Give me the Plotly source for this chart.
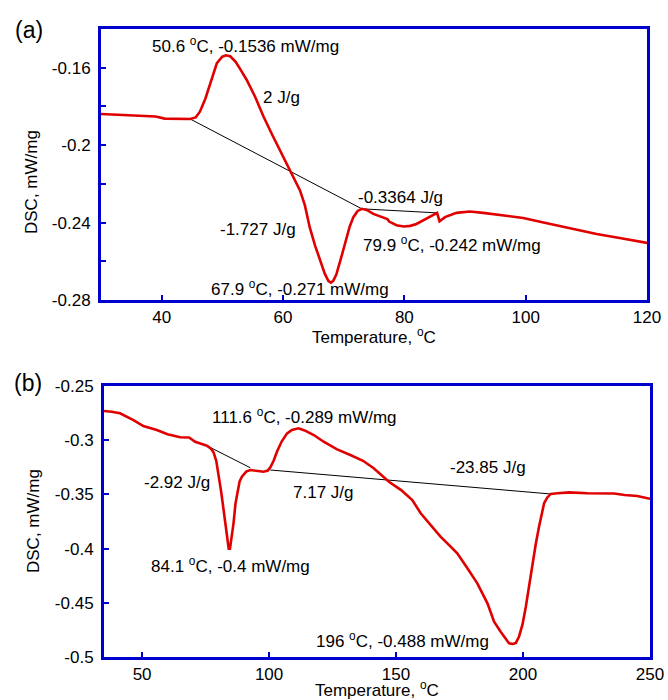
import plotly.graph_objects as go

# ---- Panel (a): DSC trace, 30-120 degC ----
temp_a = [30, 34.0, 37.5, 39.0, 40.5, 44.7, 45.6, 46.3, 47.2, 48.0, 49.1, 50.0, 50.6, 51.3,
          52.2, 53.0, 54.0, 55.4, 56.8, 58.2, 59.5, 61.2, 62.8, 63.6, 64.4, 65.3, 66.1,
          66.9, 67.5, 67.9, 68.3, 68.8, 69.6, 70.5, 71.0, 71.6, 72.3, 73.0, 73.8, 74.9,
          76.8, 77.2, 77.5, 78.7, 79.9, 81.0, 82.0, 84.0, 85.4, 85.8, 86.7, 88.6, 90.8,
          93.0, 97.4, 99.6, 103.5, 107.3, 111.7, 115.5, 120]
dsc_a = [-0.1839, -0.1844, -0.1848, -0.1852, -0.1863, -0.1865, -0.1857, -0.1827, -0.1760,
         -0.1679, -0.1576, -0.1543, -0.1536, -0.1541, -0.1570, -0.1610, -0.1662, -0.1750,
         -0.1853, -0.1945, -0.2026, -0.2130, -0.2234, -0.2310, -0.2424, -0.2520, -0.2597,
         -0.2665, -0.2702, -0.2710, -0.2700, -0.2667, -0.2580, -0.2476, -0.2420, -0.2372,
         -0.2340, -0.2329, -0.2335, -0.2355, -0.2380, -0.2382, -0.2395, -0.2414, -0.2420,
         -0.2417, -0.2407, -0.2372, -0.2350, -0.2393, -0.2372, -0.2350, -0.2343, -0.2350,
         -0.2369, -0.2376, -0.2404, -0.2431, -0.2459, -0.2480, -0.2505]
# integration baselines
base_a1_t = [44.7, 73.0]
base_a1_y = [-0.1865, -0.2329]
base_a2_t = [73.0, 85.4]
base_a2_y = [-0.2329, -0.2350]

# ---- Panel (b): DSC trace, 35-250 degC ----
temp_b = [35, 38, 41.3, 46.6, 50.5, 55.8, 60, 65.0, 68.5, 69.6, 70.9, 73.5, 75.5, 77.0,
          78.1, 79.2, 80.1, 81.1, 82.1, 83.3, 84.1, 84.6, 85.3, 86.0, 86.8, 87.6, 88.4,
          89.3, 91.0, 92.6, 95.2, 97.8, 99.5, 100.5, 101.8, 103.1, 105.0, 107.1, 109.0,
          111.6, 114.0, 117.6, 121.5, 126.8, 132.0, 137.0, 141.2, 144.0, 147.2, 152.0,
          156.4, 159.7, 163.0, 167.5, 171.0, 174.1, 178.1, 182.0, 186.0, 188.6, 191.2,
          193.0, 194.5, 196.0, 197.2, 198.4, 199.8, 201.1, 202.4, 203.7, 205.0, 206.3,
          207.3, 208.3, 209.5, 210.9, 213.6, 218.2, 225.4, 235.9, 240.0, 245.0, 250.0]
dsc_b = [-0.2730, -0.2737, -0.2752, -0.2814, -0.2869, -0.2906, -0.2945, -0.2973, -0.2975,
         -0.2990, -0.3014, -0.3035, -0.3051, -0.3075, -0.3110, -0.3190, -0.3305, -0.3470,
         -0.3644, -0.3850, -0.4000, -0.4000, -0.3900, -0.3767, -0.3580, -0.3459, -0.3380,
         -0.3337, -0.3290, -0.3275, -0.3280, -0.3291, -0.3280, -0.3250, -0.3190, -0.3106,
         -0.3010, -0.2937, -0.2905, -0.2890, -0.2910, -0.2952, -0.3014, -0.3085, -0.3137,
         -0.3190, -0.3259, -0.3320, -0.3383, -0.3460, -0.3552, -0.3674, -0.3770, -0.3890,
         -0.3970, -0.4044, -0.4182, -0.4320, -0.4505, -0.4674, -0.4767, -0.4830, -0.4874,
         -0.4880, -0.4870, -0.4813, -0.4700, -0.4536, -0.4340, -0.4136, -0.3960, -0.3798,
         -0.3680, -0.3582, -0.3530, -0.3496, -0.3490, -0.3481, -0.3490, -0.3492, -0.3505,
         -0.3515, -0.3540]
base_b1_t = [75.5, 92.6]
base_b1_y = [-0.3051, -0.3254]
base_b2_t = [100.5, 210.9]
base_b2_y = [-0.3275, -0.3496]

# tick labels
xticks_a = [40, 60, 80, 100, 120]
yticks_a = [-0.28, -0.26, -0.24, -0.22, -0.2, -0.18, -0.16]
ytext_a = ["-0.28", "", "-0.24", "", "-0.2", "", "-0.16"]
xticks_b = [50, 100, 150, 200, 250]
yticks_b = [-0.5, -0.45, -0.4, -0.35, -0.3, -0.25]
ytext_b = ["-0.5", "-0.45", "-0.4", "-0.35", "-0.3", "-0.25"]

# peak / enthalpy labels: (text, T, DSC)
notes_a = [
    ("50.6 <sup>o</sup>C, -0.1536 mW/mg", 53.9, -0.1481),
    ("2 J/g", 59.7, -0.1756),
    ("-1.727 J/g", 55.9, -0.2436),
    ("67.9 <sup>o</sup>C, -0.271 mW/mg", 62.8, -0.2738),
    ("-0.3364 J/g", 79.4, -0.2270),
    ("79.9 <sup>o</sup>C, -0.242 mW/mg", 87.9, -0.2509),
]
notes_b = [
    ("111.6 <sup>o</sup>C, -0.289 mW/mg", 113.9, -0.2777),
    ("-2.92 J/g", 63.8, -0.3386),
    ("7.17 J/g", 121.4, -0.3478),
    ("84.1 <sup>o</sup>C, -0.4 mW/mg", 84.7, -0.4151),
    ("-23.85 J/g", 186.1, -0.3256),
    ("196 <sup>o</sup>C, -0.488 mW/mg", 152.6, -0.4843),
]

W, H = 668, 700
FONT = "Liberation Sans, Arial, Helvetica, sans-serif"
BLUE = "#0000cc"
RED = "#e00000"
FS = 17

fig = go.Figure()
for t, y, xa, ya in [(base_a1_t, base_a1_y, "x", "y"), (base_a2_t, base_a2_y, "x", "y"),
                     (base_b1_t, base_b1_y, "x2", "y2"), (base_b2_t, base_b2_y, "x2", "y2")]:
    fig.add_trace(go.Scatter(x=t, y=y, mode="lines", xaxis=xa, yaxis=ya,
                             line=dict(color="black", width=1), showlegend=False,
                             hoverinfo="skip"))
fig.add_trace(go.Scatter(x=temp_a, y=dsc_a, mode="lines", xaxis="x", yaxis="y",
                         line=dict(color=RED, width=2.6), showlegend=False))
fig.add_trace(go.Scatter(x=temp_b, y=dsc_b, mode="lines", xaxis="x2", yaxis="y2",
                         line=dict(color=RED, width=2.6), showlegend=False))

axis_common = dict(showline=True, mirror=True, linecolor=BLUE, linewidth=3,
                   ticks="inside", ticklen=5, tickwidth=2, tickcolor=BLUE,
                   showgrid=False, zeroline=False, automargin=False,
                   tickfont=dict(family=FONT, size=FS, color="black"))


def px_x(p):
    return p / W


def px_y(p):
    return 1 - p / H


fig.update_layout(
    width=W, height=H,
    margin=dict(l=0, r=0, t=0, b=0),
    paper_bgcolor="white", plot_bgcolor="white",
    font=dict(family=FONT, size=FS, color="black"),
    xaxis=dict(domain=[px_x(101), px_x(647)], range=[30, 120], anchor="y",
               tickvals=xticks_a, **axis_common),
    yaxis=dict(domain=[px_y(300), px_y(29)], range=[-0.28, -0.14], anchor="x",
               tickvals=yticks_a, ticktext=ytext_a, ticklabelstandoff=4, **axis_common),
    xaxis2=dict(domain=[px_x(104), px_x(650)], range=[35, 250], anchor="y2",
                tickvals=xticks_b, **axis_common),
    yaxis2=dict(domain=[px_y(657), px_y(386)], range=[-0.5, -0.25], anchor="x2",
                tickvals=yticks_b, ticktext=ytext_b, ticklabelstandoff=4, **axis_common),
)

ann = []
for text, t, y in notes_a:
    ann.append(dict(text=text, x=t, y=y, xref="x", yref="y", showarrow=False,
                    font=dict(size=FS)))
for text, t, y in notes_b:
    ann.append(dict(text=text, x=t, y=y, xref="x2", yref="y2", showarrow=False,
                    font=dict(size=FS)))

# panel tags and axis titles
for text, xp, yp, size, angle in [
    ("(a)", 29, 30, 23, 0), ("(b)", 28, 383, 23, 0),
    ("Temperature, <sup>o</sup>C", 374, 336, FS, 0),
    ("Temperature, <sup>o</sup>C", 377, 689, FS, 0),
    ("DSC, mW/mg", 31, 182, FS, -90),
    ("DSC, mW/mg", 33, 521, FS, -90),
]:
    ann.append(dict(text=text, x=px_x(xp), y=px_y(yp), xref="paper", yref="paper",
                    xanchor="center", yanchor="middle", showarrow=False,
                    textangle=angle, font=dict(size=size)))
fig.update_layout(annotations=ann)

fig.write_html("out.html")
